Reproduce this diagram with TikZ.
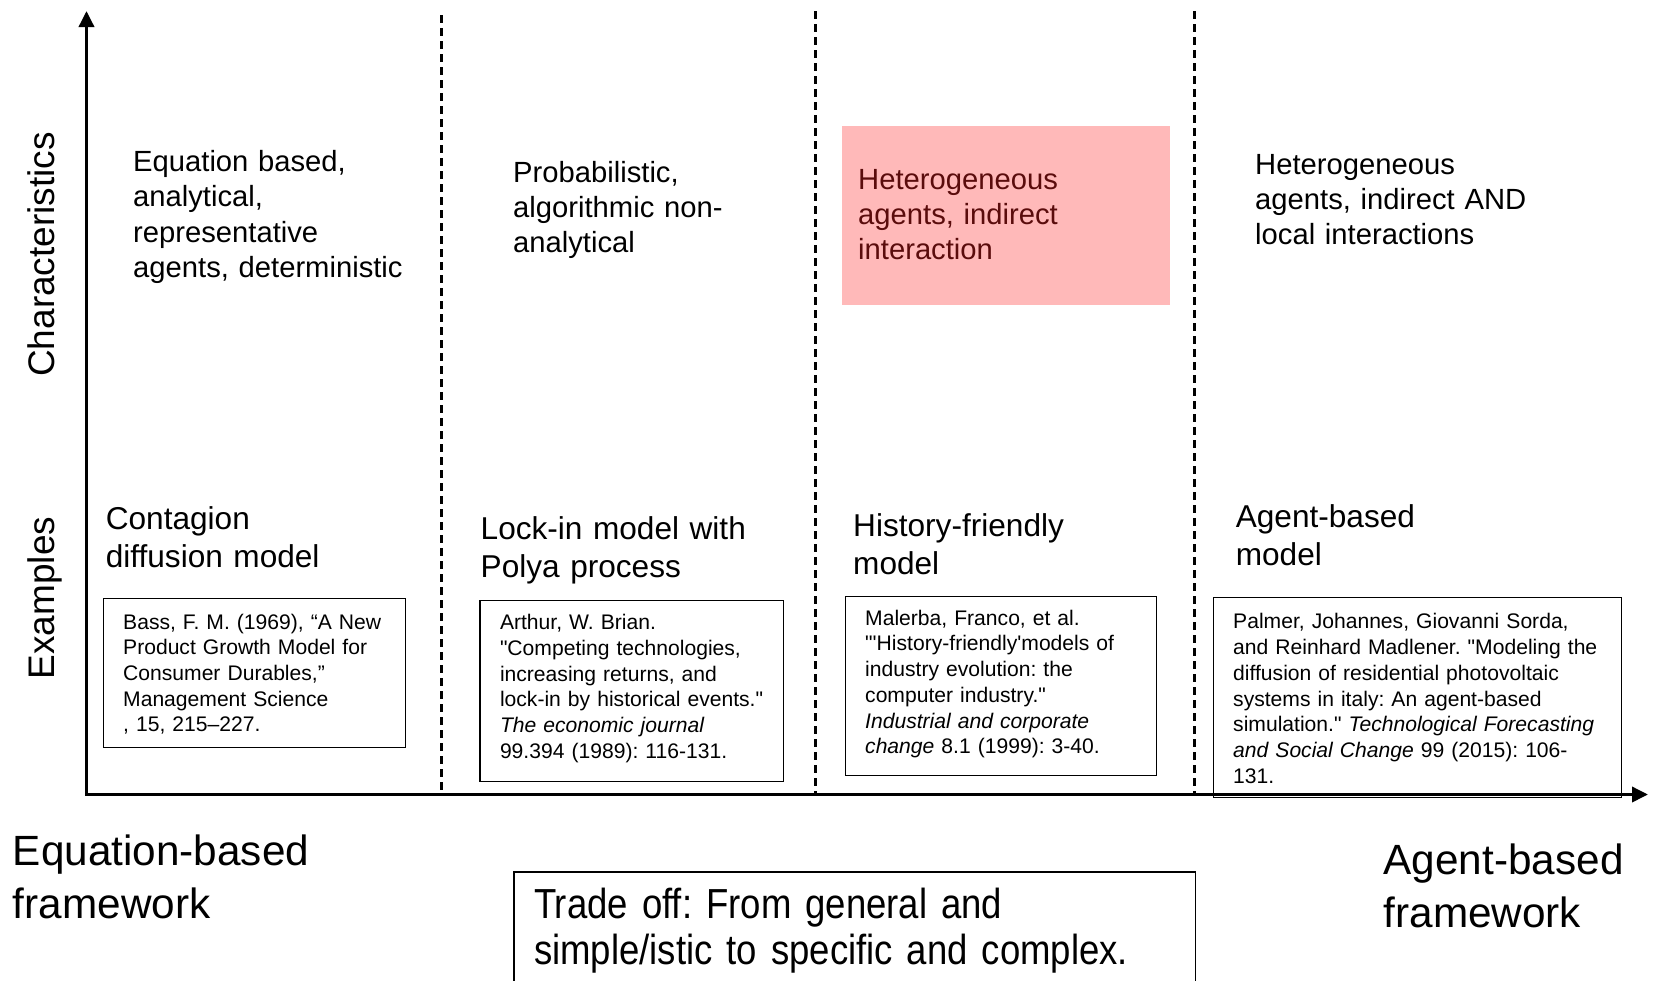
\documentclass[tikz,border=0pt]{standalone}
\usepackage{fontspec}
\setmainfont{Liberation Sans}
\newfontfamily\tradefont{Liberation Sans}[FakeStretch=0.87]
\usetikzlibrary{arrows.meta, positioning, calc}
\frenchspacing

\definecolor{hetpink}{RGB}{255,185,185}
\definecolor{hetred}{RGB}{90,12,12}
\newcommand{\dq}{\textquotedbl}

\begin{document}
\begin{tikzpicture}[x=1pt, y=-1pt, >={Triangle[length=16pt,width=15pt]},
  axisline/.style={line width=3.5pt},
  sepline/.style={line width=3pt, dash pattern=on 8pt off 5pt},
  chartext/.style={anchor=base west, inner sep=0, align=left, text width=300pt,
    font=\fontsize{29.2}{35.3}\selectfont},
  extitle/.style={anchor=base west, inner sep=0, align=left, text width=300pt,
    font=\fontsize{31.6}{38}\selectfont},
  citebox/.style={draw, line width=1.4pt, anchor=north west, inner xsep=20pt,
    inner ysep=0pt, align=left, font=\fontsize{21.1}{25.7}\selectfont},
  sidelabel/.style={rotate=90, anchor=base, inner sep=0,
    font=\fontsize{37}{44}\selectfont},
  framelabel/.style={anchor=base west, inner sep=0, align=left, text width=400pt,
    font=\fontsize{42.3}{52.5}\selectfont}]

  \useasboundingbox (0,0) rectangle (1656,980);

  % axes
  \coordinate (origin) at (86.5,794.5);
  \coordinate (ytop) at (86.5,11);
  \coordinate (xend) at (1648,794.5);
  \draw[axisline,<->] (ytop) -- (origin) -- (xend);

  % column separators
  \foreach \sx/\sy in {441/15, 815/11, 1194/11}
    \draw[sepline] (\sx,\sy) -- (\sx,794);

  \node[sidelabel] (charlab) at (54,254.5) {Characteristics};
  \node[sidelabel] (exlab) at (54,598) {Examples};

  % characteristics
  \node[chartext] (eqchar) at (133,171.5)
    {Equation based,\\analytical,\\representative\\agents, deterministic};
  \node[chartext] (probchar) at (513,182)
    {Probabilistic,\\algorithmic non-\\analytical};
  \node[chartext, anchor=north west, fill=hetpink, text=hetred, inner xsep=16pt,
        text width=296pt, text height=63pt, text depth=116pt] (hetchar) at (842,126)
    {Heterogeneous\\agents, indirect\\interaction};
  \node[chartext] (abmchar) at (1255,174)
    {Heterogeneous\\agents, indirect AND\\local interactions};

  % examples
  \node[extitle] (contagion) at (105.6,529.7) {Contagion\\diffusion model};
  \node[extitle] (lockin) at (480.5,539.2) {Lock-in model with\\Polya process};
  \node[extitle] (history) at (853,536.2) {History-friendly\\model};
  \node[extitle] (agentbased) at (1235.6,527.2) {Agent-based\\model};

  \node[citebox, text width=262.5pt, text height=30.3pt, text depth=118.7pt]
    (bass) at (102.5,598)
    {Bass, F. M. (1969), “A New\\Product Growth Model for\\Consumer Durables,”\\
     Management Science\\, 15, 215--227.};
  \node[citebox, text width=263.4pt, text height=29pt, text depth=151.7pt]
    (arthur) at (479.3,600)
    {Arthur, W. Brian.\\\dq Competing technologies,\\increasing returns, and\\
     lock-in by historical events.\dq\\\textit{The economic journal}\\
     99.394 (1989): 116-131.};
  \node[citebox, text width=271.5pt, text height=29pt, text depth=150.5pt]
    (malerba) at (844.5,595.5)
    {Malerba, Franco, et al.\\\dq\textquotesingle History-friendly\textquotesingle models of\\
     industry evolution: the\\computer industry.\dq\\
     \textit{Industrial and corporate}\\\textit{change} 8.1 (1999): 3-40.};
  \node[citebox, text width=368.5pt, text height=31.5pt, text depth=168.8pt]
    (palmer) at (1212.5,596.7)
    {Palmer, Johannes, Giovanni Sorda,\\and Reinhard Madlener. \dq Modeling the\\
     diffusion of residential photovoltaic\\systems in italy: An agent-based\\
     simulation.\dq\ \textit{Technological Forecasting}\\
     \textit{and Social Change} 99 (2015): 106-\\131.};

  % frameworks
  \node[framelabel] (eqframe) at (12.7,865.5) {Equation-based\\framework};
  \node[framelabel] (abframe) at (1383.5,874.5) {Agent-based\\framework};

  \node[citebox, text width=641.2pt, text height=46.5pt, text depth=120pt,
        font=\tradefont\fontsize{42}{45.5}\selectfont] (tradeoff) at (513.3,871.3)
    {Trade off: From general and\\simple/istic to specific and complex.};
\end{tikzpicture}
\end{document}
